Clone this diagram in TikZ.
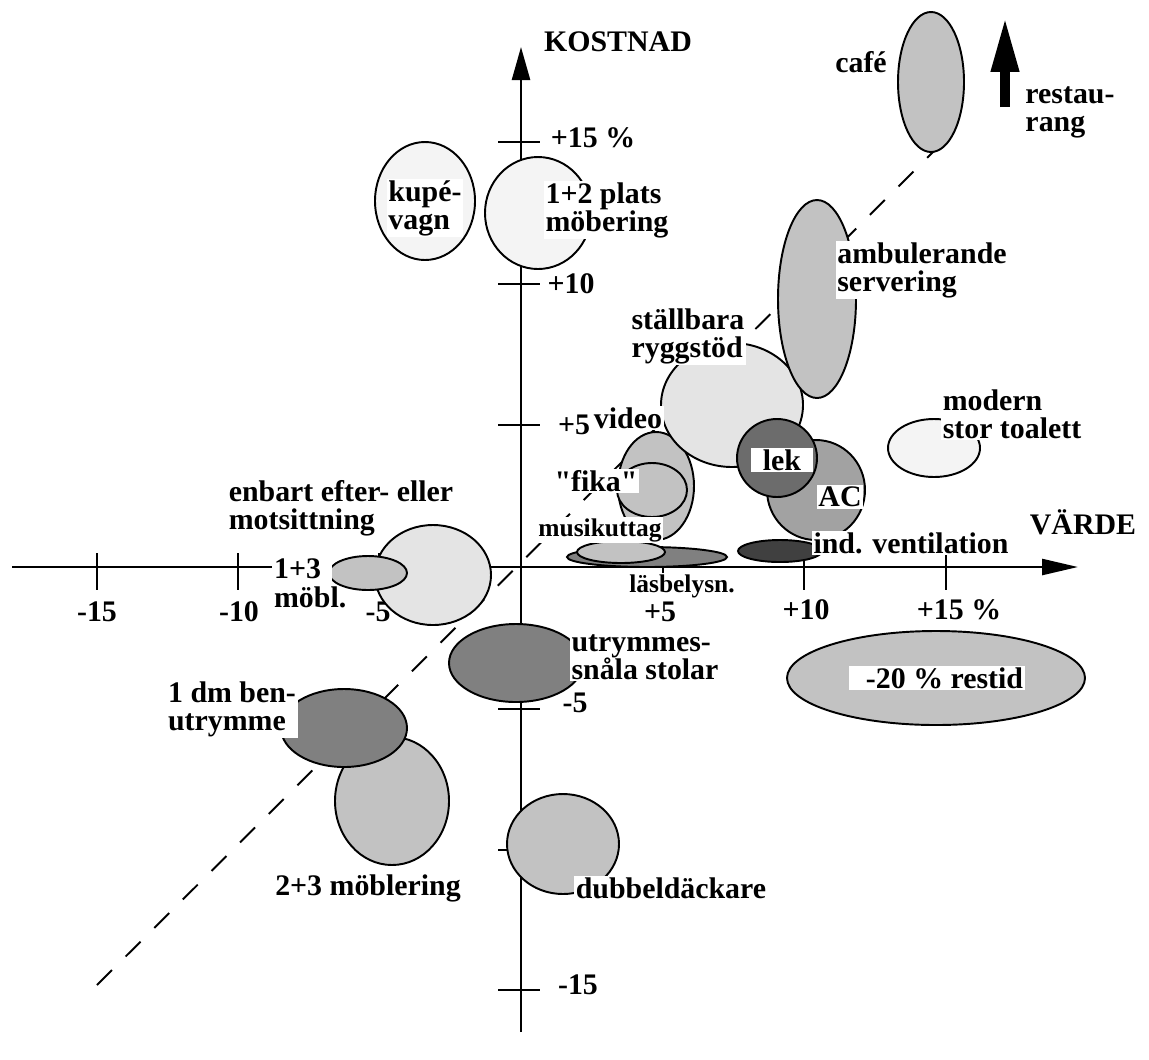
\documentclass[tikz,border=0pt]{standalone}
\usepackage{fontspec}
\setmainfont{Liberation Serif}
\usetikzlibrary{arrows.meta}
\definecolor{paleGray}{HTML}{F4F4F4}
\definecolor{lightGray}{HTML}{E4E4E4}
\definecolor{midGray}{HTML}{C2C2C2}
\definecolor{acGray}{HTML}{A2A2A2}
\definecolor{darkGray}{HTML}{808080}
\definecolor{lekGray}{HTML}{6C6C6C}
\definecolor{ventGray}{HTML}{404040}

\begin{document}
\begin{tikzpicture}[
            x=0.02cm, y=-0.02cm,
            every node/.style={font=\bfseries\fontsize{17}{16}\selectfont, inner sep=1pt},
            lab/.style={fill=white, align=left},
            small/.style={font=\bfseries\fontsize{14.5}{15}\selectfont},
            blob/.style={draw, line width=1.1pt},
            axis/.style={line width=1.4pt},
            guide/.style={line width=1.1pt, dash pattern=on 12pt off 11pt}
        ]
        \useasboundingbox (0,0) rectangle (1149,1059);

        % diagonal
        \coordinate (diagLow) at (97,985);
        \coordinate (diagHigh) at (935,150);
        \draw[guide] (diagLow) -- (diagHigh);

        % axes
        \coordinate (xstart) at (12,567);
        \coordinate (xend) at (1078,567);
        \coordinate (ystart) at (521,1032);
        \coordinate (yend) at (521,47);
        \draw[axis, -{Triangle[length=0.72cm, width=0.32cm]}] (xstart) -- (xend);
        \draw[axis, -{Triangle[length=0.66cm, width=0.36cm]}] (ystart) -- (yend);
        \draw[axis] (97,553) -- (97,590);
        \draw[axis] (238,553) -- (238,590);
        \draw[axis] (379,553) -- (379,590);
        \draw[axis] (663,553) -- (663,590);
        \draw[axis] (804,553) -- (804,590);
        \draw[axis] (946,553) -- (946,590);
        \draw[axis] (498,142) -- (540,142);
        \draw[axis] (498,284) -- (540,284);
        \draw[axis] (498,425) -- (540,425);
        \draw[axis] (498,709) -- (540,709);
        \draw[axis] (498,850) -- (540,850);
        \draw[axis] (498,990) -- (540,990);

        \node (kostnad) at (618,42) {KOSTNAD};
        \node (varde) at (1083,522) {VÄRDE};
        \node (xm15) at (97,612) {-15};
        \node (xm10) at (239,612) {-10};
        \node (xm5) at (378,612) {-5};
        \node (xp5) at (660,612) {+5};
        \node (xp10) at (806,610) {+10};
        \node (xp15) at (959,610) {+15 \%};
        \node (yp15) at (593,138) {+15 \%};
        \node (yp10) at (571,284) {+10};
        \node (yp5) at (574,425) {+5};
        \node (ym5) at (575,703) {-5};
        \node (ym15) at (578,985) {-15};

        % ellipses
        \draw[blob, fill=midGray] (931,82) ellipse [x radius=33, y radius=70];
        \draw[blob, fill=midGray] (656,486) ellipse [x radius=38, y radius=54];
        \draw[blob, fill=midGray] (652,490) ellipse [x radius=35, y radius=27];
        \draw[blob, fill=lightGray] (732,405) ellipse [x radius=71, y radius=62];
        \draw[blob, fill=midGray] (817,299) ellipse [x radius=39, y radius=99];
        \draw[blob, fill=acGray] (816,490) ellipse [x radius=49, y radius=50];
        \draw[blob, fill=lekGray] (777,458) ellipse [x radius=40, y radius=39];
        \draw[blob, fill=darkGray] (647,557) ellipse [x radius=80, y radius=10];
        \draw[blob, fill=midGray] (621,552) ellipse [x radius=44, y radius=11];
        \draw[blob, fill=ventGray] (780,551) ellipse [x radius=42, y radius=11];
        \draw[blob, fill=paleGray] (934,448) ellipse [x radius=46, y radius=29];
        \draw[blob, fill=midGray] (936,678) ellipse [x radius=149, y radius=47];
        \draw[blob, fill=paleGray] (425,201) ellipse [x radius=50, y radius=59];
        \draw[blob, fill=paleGray] (538,213) ellipse [x radius=53, y radius=56];
        \draw[blob, fill=lightGray] (433,575) ellipse [x radius=58, y radius=50];
        \draw[blob, fill=midGray] (368,573) ellipse [x radius=39, y radius=17];
        \draw[blob, fill=darkGray] (516,663) ellipse [x radius=67, y radius=39];
        \draw[blob, fill=midGray] (392,801) ellipse [x radius=57, y radius=64];
        \draw[blob, fill=darkGray] (344,728) ellipse [x radius=63, y radius=39];
        \draw[blob, fill=midGray] (563,844) ellipse [x radius=56, y radius=50];

        % labels
        \node (cafe) at (861,62) {café};
        \node[lab] (restaurang) at (1070,112) {restau-\\rang};
        \node[lab] (kupe) at (425,208) {kupé-\\vagn};
        \node[lab] (platsmob) at (607,210) {1+2 plats\\möbering};
        \node[lab] (ambul) at (922,270) {ambulerande\\servering};
        \node[lab] (rygg) at (688,336) {ställbara\\ryggstöd};
        \node[lab] (video) at (628,418) {video};
        \node[lab] (toalett) at (1012,414) {modern\\stor toalett};
        \node[lab] (lek) at (782,460) {\hspace*{0.2cm}lek\hspace*{0.2cm}};
        \node[lab] (fika) at (596,481) {\textquotedbl fika\textquotedbl};
        \node[lab] (ac) at (840,497) {AC};
        \node[align=left] (enbart) at (341,508) {enbart efter- eller\\motsittning};
        \node[lab, small] (musik) at (600,530) {musikuttag};
        \node[lab] (indvent) at (911,543) {ind. ventilation};
        \node[lab, anchor=west] (mobl13) at (272,569) {1+3\hspace*{0.18cm}};
        \node[anchor=north west, yshift=-2pt] (mobl13b) at (mobl13.south west) {möbl.};
        \node[lab, small] (lasbel) at (682,586) {läsbelysn.};
        \node[lab] (utrymmes) at (645,657) {utrymmes-\\snåla stolar};
        \node[lab] (restid) at (937,678) {\hspace*{0.3cm}-20 \% restid};
        \node[lab] (bendm) at (232,709) {1 dm ben-\\utrymme};
        \node[lab] (mob23) at (368,888) {2+3 möblering};
        \node[lab] (dubbel) at (671,888) {dubbeldäckare};

        % restaurang arrow
        \coordinate (restLow) at (1005,107);
        \coordinate (restHigh) at (1005,17);
        \draw[line width=0.2cm, -{Triangle[length=1.1cm, width=0.52cm]}] (restLow) -- (restHigh);

        \end{tikzpicture}
\end{document}
